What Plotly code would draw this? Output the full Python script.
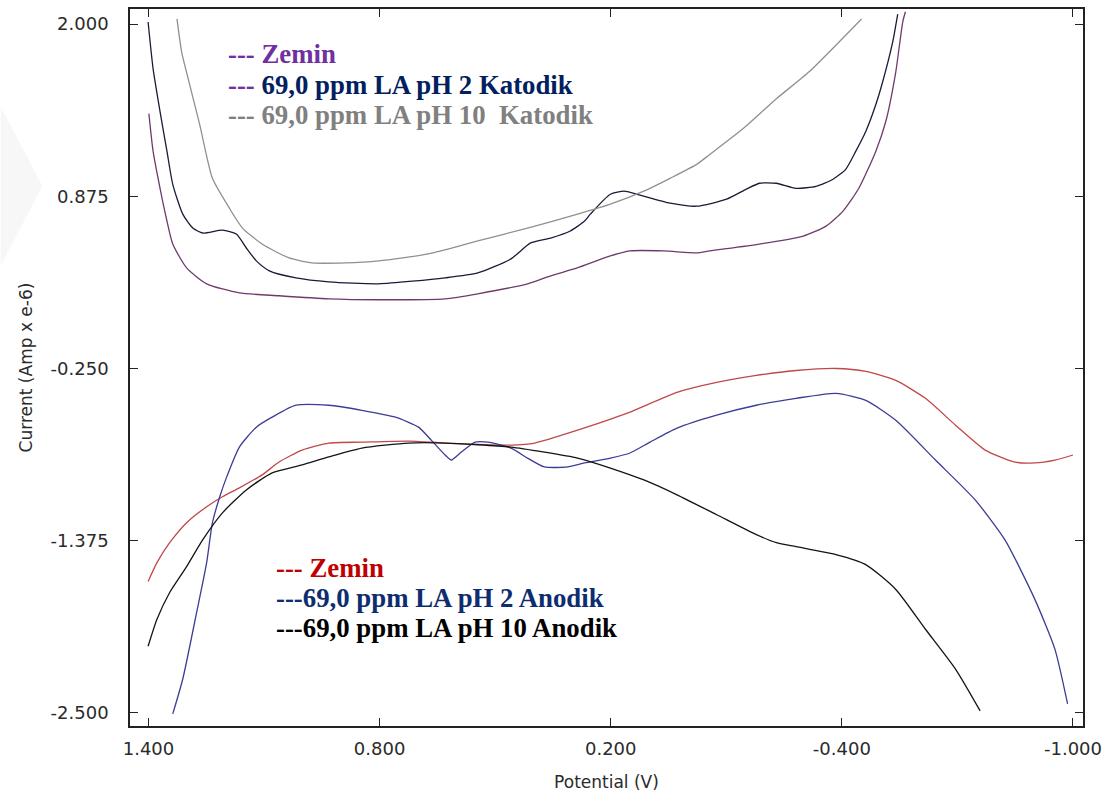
import plotly.graph_objects as go

# Potential axis ticks (V) and current axis ticks (Amp x e-6)
x_tick_vals = [1.4, 0.8, 0.2, -0.4, -1.0]
x_tick_text = ["1.400", "0.800", "0.200", "-0.400", "-1.000"]
y_tick_vals = [2.0, 0.875, -0.25, -1.375, -2.5]
y_tick_text = ["2.000", "0.875", "-0.250", "-1.375", "-2.500"]

# Cathodic scans
kat_zemin_x = [1.399, 1.388, 1.370, 1.352, 1.337, 1.301, 1.249, 1.164, 1.061, 0.932, 0.803,
               0.630, 0.545, 0.416, 0.356, 0.287, 0.201, 0.150, 0.062, -0.023, -0.057,
               -0.186, -0.300, -0.359, -0.403, -0.444, -0.488, -0.514, -0.540, -0.558, -0.565]
kat_zemin_y = [1.415, 1.168, 0.927, 0.713, 0.563, 0.407, 0.303, 0.244, 0.225, 0.205, 0.199,
               0.205, 0.238, 0.303, 0.355, 0.407, 0.485, 0.518, 0.518, 0.505, 0.518,
               0.563, 0.615, 0.680, 0.778, 0.927, 1.168, 1.363, 1.688, 2.013, 2.080]

kat_ph2_x = [1.401, 1.388, 1.370, 1.352, 1.337, 1.311, 1.285, 1.259, 1.208, 1.172, 1.146,
             1.120, 1.086, 1.017, 0.932, 0.803, 0.630, 0.545, 0.459, 0.408, 0.356, 0.305,
             0.268, 0.253, 0.201, 0.165, 0.132, 0.046, -0.023, -0.101, -0.152, -0.186,
             -0.230, -0.281, -0.333, -0.377, -0.410, -0.436, -0.462, -0.488, -0.506,
             -0.532, -0.545]
kat_ph2_y = [2.013, 1.707, 1.428, 1.168, 0.953, 0.758, 0.667, 0.635, 0.654, 0.628, 0.537,
             0.453, 0.388, 0.342, 0.316, 0.303, 0.342, 0.374, 0.466, 0.570, 0.602, 0.648,
             0.713, 0.758, 0.888, 0.908, 0.888, 0.830, 0.810, 0.856, 0.921, 0.960,
             0.960, 0.927, 0.940, 0.986, 1.051, 1.168, 1.298, 1.473, 1.623,
             1.883, 2.065]

kat_ph10_x = [1.326, 1.314, 1.293, 1.267, 1.234, 1.190, 1.156, 1.105, 1.035, 0.975, 0.888,
              0.803, 0.674, 0.545, 0.416, 0.286, 0.201, 0.114, 0.046, -0.023, -0.057,
              -0.144, -0.230, -0.315, -0.451]
kat_ph10_y = [2.033, 1.818, 1.603, 1.343, 0.992, 0.797, 0.667, 0.563, 0.472, 0.440, 0.440,
              0.453, 0.498, 0.583, 0.667, 0.758, 0.823, 0.908, 0.992, 1.083, 1.148,
              1.317, 1.512, 1.688, 2.033]

# Anodic scans
an_zemin_x = [1.401, 1.378, 1.345, 1.301, 1.249, 1.208, 1.164, 1.105, 1.061, 1.001, 0.932,
              0.846, 0.725, 0.630, 0.459, 0.397, 0.286, 0.157, 0.028, -0.075, -0.178,
              -0.281, -0.385, -0.462, -0.540, -0.617, -0.695, -0.772, -0.849, -0.901,
              -0.953, -1.000]
an_zemin_y = [-1.641, -1.518, -1.388, -1.257, -1.153, -1.088, -1.030, -0.945, -0.861, -0.783,
              -0.737, -0.731, -0.724, -0.737, -0.750, -0.737, -0.653, -0.542, -0.406, -0.341,
              -0.295, -0.263, -0.250, -0.269, -0.328, -0.445, -0.620, -0.783, -0.861, -0.867,
              -0.848, -0.815]

an_ph2_x = [1.337, 1.311, 1.275, 1.249, 1.234, 1.215, 1.197, 1.164, 1.120, 1.079, 1.017,
            0.932, 0.846, 0.759, 0.699, 0.666, 0.630, 0.614, 0.588, 0.552, 0.519, 0.459,
            0.416, 0.372, 0.312, 0.268, 0.201, 0.150, 0.098, 0.028, -0.075, -0.178,
            -0.281, -0.385, -0.462, -0.540, -0.643, -0.746, -0.823, -0.901, -0.953, -0.986]
an_ph2_y = [-2.506, -2.278, -1.843, -1.518, -1.257, -1.088, -0.958, -0.763, -0.633, -0.568,
            -0.490, -0.490, -0.523, -0.568, -0.633, -0.718, -0.815, -0.848, -0.796, -0.731,
            -0.731, -0.770, -0.835, -0.893, -0.893, -0.867, -0.835, -0.802, -0.731, -0.640,
            -0.555, -0.490, -0.445, -0.412, -0.458, -0.588, -0.848, -1.108, -1.368, -1.758,
            -2.083, -2.441]

an_ph10_x = [1.401, 1.378, 1.345, 1.301, 1.259, 1.208, 1.146, 1.079, 1.001, 0.932, 0.846,
             0.725, 0.630, 0.459, 0.372, 0.286, 0.201, 0.114, 0.028, -0.075, -0.178,
             -0.230, -0.281, -0.385, -0.462, -0.540, -0.617, -0.695, -0.759]
an_ph10_y = [-2.064, -1.888, -1.713, -1.544, -1.368, -1.193, -1.043, -0.932, -0.880, -0.828,
             -0.770, -0.737, -0.737, -0.763, -0.796, -0.835, -0.900, -0.978, -1.075, -1.205,
             -1.335, -1.388, -1.414, -1.466, -1.531, -1.693, -1.953, -2.213, -2.486]

series = [
    (kat_zemin_x, kat_zemin_y, "#6e3a6e"),
    (kat_ph2_x, kat_ph2_y, "#1b1b38"),
    (kat_ph10_x, kat_ph10_y, "#909090"),
    (an_zemin_x, an_zemin_y, "#c04848"),
    (an_ph2_x, an_ph2_y, "#3c3c96"),
    (an_ph10_x, an_ph10_y, "#141414"),
]

fig = go.Figure()
for xs, ys, col in series:
    fig.add_trace(go.Scatter(x=xs, y=ys, mode="lines",
                             line=dict(color=col, width=1.3, shape="spline", smoothing=0.6),
                             showlegend=False, hoverinfo="skip"))

label_font = dict(family="Liberation Serif, Times New Roman, serif", size=26.8)
PURPLE, NAVY, GREY = "#7030a0", "#002060", "#808080"
RED, DARKBLUE, BLACK = "#c00000", "#0d2d70", "#000000"

labels = [
    (0.102, 0.937, f'<b><span style="color:{PURPLE}">--- Zemin</span></b>'),
    (0.102, 0.894, f'<b><span style="color:{PURPLE}">---</span> '
                   f'<span style="color:{NAVY}">69,0 ppm LA pH 2 Katodik</span></b>'),
    (0.102, 0.852, f'<b><span style="color:{GREY}">--- 69,0 ppm LA pH 10  Katodik</span></b>'),
    (0.152, 0.221, f'<b><span style="color:{RED}">--- Zemin</span></b>'),
    (0.152, 0.179, f'<b><span style="color:{DARKBLUE}">---69,0 ppm LA pH 2 Anodik</span></b>'),
    (0.152, 0.136, f'<b><span style="color:{BLACK}">---69,0 ppm LA pH 10 Anodik</span></b>'),
]
for lx, ly, txt in labels:
    fig.add_annotation(x=lx, y=ly, xref="paper", yref="paper", text=txt,
                       showarrow=False, xanchor="left", yanchor="middle",
                       font=label_font, borderpad=0)

# faint chevron mark at the left page edge
fig.add_shape(type="path", xref="paper", yref="paper", layer="below",
              path="M -0.1357 0.864 L -0.092 0.753 L -0.1357 0.642 Z",
              fillcolor="#f7f7f7", line=dict(width=0))

tick_font = dict(family="DejaVu Sans, Verdana, sans-serif", size=18, color="#2a2a2a")
title_font = dict(family="DejaVu Sans, Verdana, sans-serif", size=17, color="#2a2a2a")
common = dict(showline=True, linecolor="#222222", linewidth=1.5, mirror="ticks",
              ticks="inside", ticklen=8, tickcolor="#222222", tickwidth=1.2,
              showgrid=False, zeroline=False, tickfont=tick_font)

fig.update_xaxes(range=[1.448, -1.026], tickmode="array", tickvals=x_tick_vals,
                 ticktext=x_tick_text, ticklabelstandoff=6,
                 title=dict(text="Potential (V)", font=title_font, standoff=18), **common)
fig.update_yaxes(range=[-2.585, 2.098], tickmode="array", tickvals=y_tick_vals,
                 ticktext=y_tick_text, ticklabelstandoff=16,
                 title=dict(text="Current (Amp x e-6)", font=title_font, standoff=14), **common)

fig.update_layout(width=1109, height=796, autosize=False,
                  margin=dict(l=130, r=21, t=7, b=69),
                  paper_bgcolor="white", plot_bgcolor="white")

fig.write_html("out.html")
